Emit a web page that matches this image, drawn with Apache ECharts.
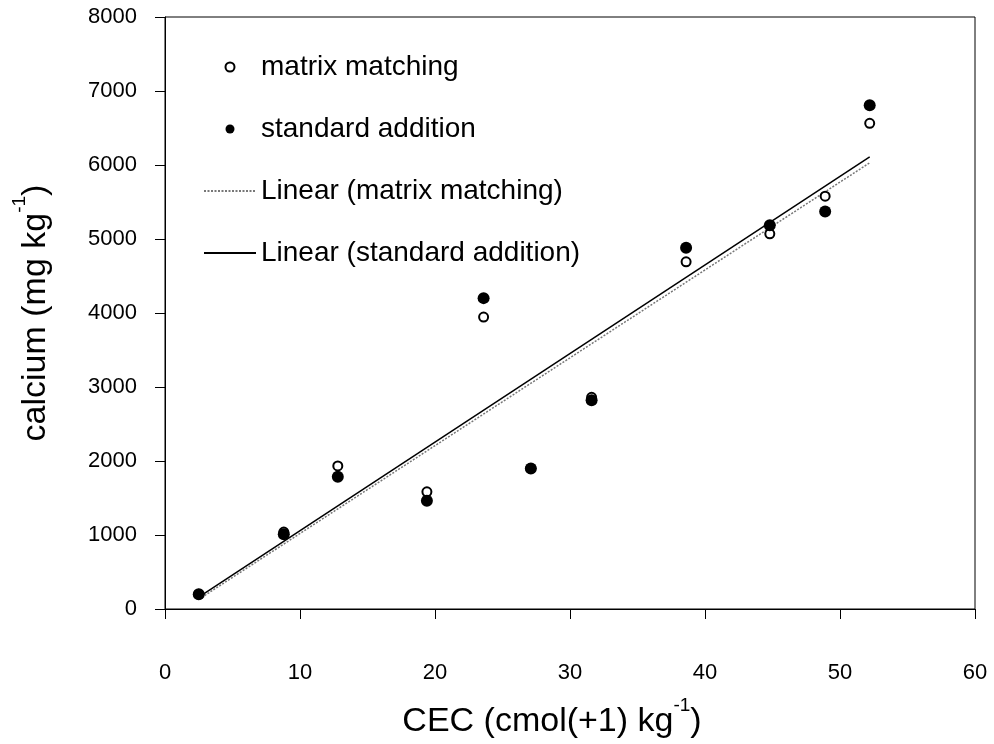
<!DOCTYPE html>
<html>
<head>
<meta charset="utf-8">
<script src="https://cdn.jsdelivr.net/npm/echarts@6/dist/echarts.min.js"></script>
<style>
html,body{margin:0;padding:0;background:#fff;}
#c{width:994px;height:744px;}
</style>
</head>
<body>
<div id="c"></div>
<script>
// CEC values (cmol(+1) kg-1)
var cec = [2.5, 8.8, 12.8, 19.4, 23.6, 27.1, 31.6, 38.6, 44.8, 48.9, 52.2];
// calcium (mg kg-1)
var matrixMatching = [200, 1040, 1934, 1583, 3945, 1900, 2860, 4692, 5070, 5578, 6563];
var standardAddition = [200, 1010, 1786, 1462, 4201, 1898, 2820, 4881, 5186, 5371, 6806];
// trendline end points
var trendX = [2.5, 52.2];
var trendMatrix = [130, 6030];
var trendStandard = [160, 6110];
var xTicks = [0, 10, 20, 30, 40, 50, 60];
var yTicks = [0, 1000, 2000, 3000, 4000, 5000, 6000, 7000, 8000];
var names = ['matrix matching', 'standard addition', 'Linear (matrix matching)', 'Linear (standard addition)'];

function pairs(xs, ys) { return xs.map(function (x, i) { return [x, ys[i]]; }); }

var FONT = 'Liberation Sans';
var chart = echarts.init(document.getElementById('c'));
var titleRich = {
  a: { fontFamily: FONT, fontSize: 34, color: '#000', lineHeight: 34, verticalAlign: 'bottom' },
  s: { fontFamily: FONT, fontSize: 19, color: '#000', lineHeight: 19, verticalAlign: 'bottom', padding: [0, 0, 24, 0] }
};
chart.setOption({
  animation: false,
  backgroundColor: '#fff',
  grid: { left: 165, right: 19, top: 17, bottom: 134, show: true, borderColor: '#000', borderWidth: 1 },
  legend: {
    orient: 'vertical', left: 198, top: 48,
    itemWidth: 52, itemHeight: 9, itemGap: 34, textStyle: { fontFamily: FONT, fontSize: 28, color: '#000', lineHeight: 28 },
    data: [
      { name: names[0] },
      { name: names[1] },
      { name: names[2], itemStyle: { opacity: 0 } },
      { name: names[3], itemStyle: { opacity: 0 } }
    ]
  },
  xAxis: {
    type: 'value', min: xTicks[0], max: xTicks[xTicks.length - 1], interval: 10,
    splitLine: { show: false },
    axisLine: { lineStyle: { color: '#000', width: 1 } },
    axisTick: { inside: false, length: 10, lineStyle: { color: '#000' } },
    axisLabel: { margin: 53, fontFamily: FONT, fontSize: 22, color: '#000' },
    name: '{a|CEC (cmol(+1) kg}{s|-1}{a|)}',
    nameLocation: 'middle', nameGap: 96,
    nameTextStyle: { rich: titleRich, padding: [0, 36, 0, 0] }
  },
  yAxis: {
    type: 'value', min: yTicks[0], max: yTicks[yTicks.length - 1], interval: 1000,
    splitLine: { show: false },
    axisLine: { lineStyle: { color: '#000', width: 1 } },
    axisTick: { inside: false, length: 10, lineStyle: { color: '#000' } },
    axisLabel: { margin: 28, fontFamily: FONT, fontSize: 22, color: '#000', formatter: function (v) { return String(v); } },
    name: '{a|calcium (mg kg}{s|-1}{a|)}',
    nameLocation: 'middle', nameGap: 112, nameRotate: 90,
    nameTextStyle: { rich: titleRich }
  },
  series: [
    {
      name: names[2], type: 'line', symbol: 'none', z: 2,
      data: pairs(trendX, trendMatrix),
      lineStyle: { color: '#777', width: 1.5, type: [2, 1.5] },
      itemStyle: { color: '#777' }
    },
    {
      name: names[3], type: 'line', symbol: 'none', z: 2,
      data: pairs(trendX, trendStandard),
      lineStyle: { color: '#000', width: 1.5 },
      itemStyle: { color: '#000' }
    },
    {
      name: names[0], type: 'scatter', symbol: 'circle', symbolSize: 9, z: 3,
      data: pairs(cec, matrixMatching),
      itemStyle: { color: '#fff', borderColor: '#000', borderWidth: 2, opacity: 1 }
    },
    {
      name: names[1], type: 'scatter', symbol: 'circle', symbolSize: 12, z: 4,
      data: pairs(cec, standardAddition),
      itemStyle: { color: '#000', opacity: 1 }
    }
  ]
});
</script>
</body>
</html>
